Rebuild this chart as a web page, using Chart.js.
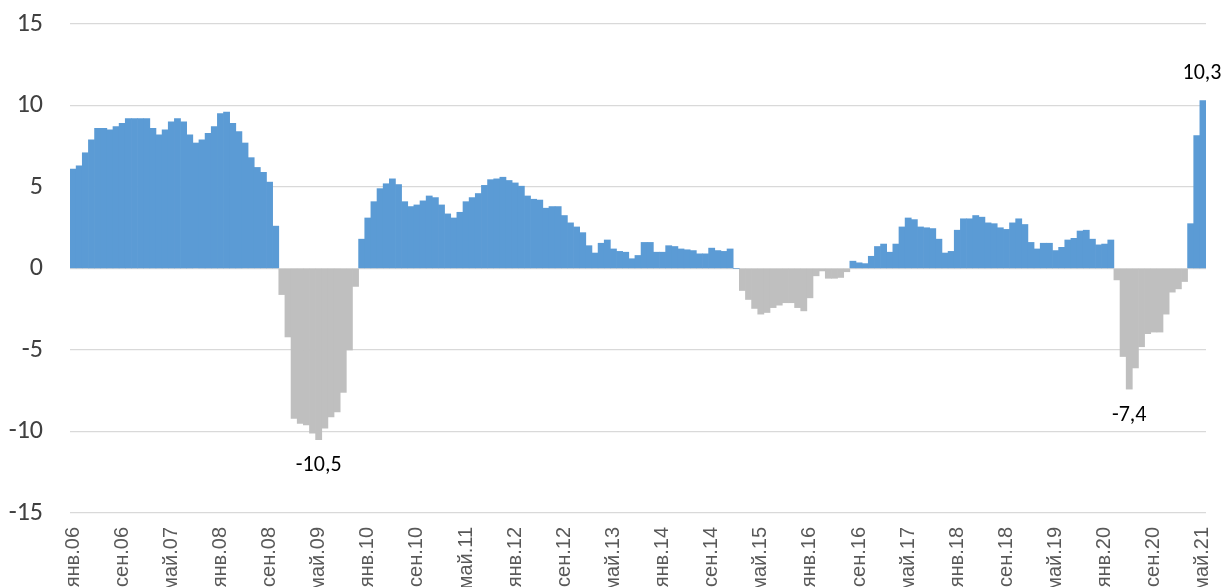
<!DOCTYPE html>
<html lang="ru">
<head>
<meta charset="utf-8">
<title>Динамика</title>
<script src="https://cdn.jsdelivr.net/npm/chart.js@4.4.1/dist/chart.umd.min.js"></script>
<style>
    html, body { margin: 0; padding: 0; background: #fff; overflow: hidden; }
    #wrap { position: relative; width: 1227px; height: 587px; }
</style>
</head>
<body>
<div id="wrap"><canvas id="canvasGrafica"></canvas></div>
<script>
// Месячные значения, янв.2006 – май.2021
const valores2006 = [6.1, 6.3, 7.1, 7.9, 8.6, 8.6, 8.5, 8.7, 8.9, 9.2, 9.2, 9.2];
const valores2007 = [9.2, 8.6, 8.2, 8.5, 9.0, 9.2, 9.0, 8.2, 7.7, 7.9, 8.3, 8.7];
const valores2008 = [9.5, 9.6, 8.9, 8.4, 7.7, 6.8, 6.2, 5.9, 5.3, 2.6, -1.6, -4.2];
const valores2009 = [-9.2, -9.5, -9.6, -10.1, -10.5, -9.8, -9.1, -8.8, -7.6, -5.0, -1.1, 1.8];
const valores2010 = [3.1, 4.1, 4.9, 5.2, 5.5, 5.15, 4.1, 3.8, 3.9, 4.15, 4.45, 4.35];
const valores2011 = [3.9, 3.35, 3.1, 3.45, 4.1, 4.35, 4.6, 5.1, 5.45, 5.5, 5.6, 5.4];
const valores2012 = [5.25, 5.05, 4.45, 4.25, 4.2, 3.7, 3.8, 3.8, 3.25, 2.8, 2.55, 2.2];
const valores2013 = [1.4, 0.95, 1.55, 1.75, 1.2, 1.05, 1.0, 0.6, 0.8, 1.6, 1.6, 1.0];
const valores2014 = [1.0, 1.4, 1.35, 1.2, 1.15, 1.1, 0.9, 0.9, 1.25, 1.1, 1.05, 1.2];
const valores2015 = [0, -1.35, -1.9, -2.45, -2.8, -2.7, -2.4, -2.25, -2.1, -2.1, -2.4, -2.6];
const valores2016 = [-1.8, -0.45, -0.15, -0.6, -0.6, -0.55, -0.2, 0.45, 0.35, 0.3, 0.75, 1.35];
const valores2017 = [1.5, 1.0, 1.5, 2.55, 3.1, 3.0, 2.55, 2.5, 2.45, 1.8, 0.95, 1.05];
const valores2018 = [2.35, 3.05, 3.05, 3.25, 3.15, 2.8, 2.75, 2.5, 2.4, 2.8, 3.05, 2.7];
const valores2019 = [1.6, 1.2, 1.55, 1.55, 1.1, 1.3, 1.75, 1.85, 2.3, 2.35, 1.8, 1.45];
const valores2020 = [1.5, 1.75, -0.7, -5.4, -7.4, -6.1, -4.8, -4.0, -3.9, -3.9, -2.8, -1.45];
const valores2021 = [-1.25, -0.8, 2.75, 8.15, 10.3];

const MESES = ['янв', 'фев', 'мар', 'апр', 'май', 'июн', 'июл', 'авг', 'сен', 'окт', 'ноя', 'дек'];
const ANIO_INICIO = 2006;
const PASO_ETIQUETAS = 8;                 // подпись каждые 8 месяцев
const mesesConEtiqueta = ['май.09', 'май.20', 'май.21'];
const ticksY = [-15, -10, -5, 0, 5, 10, 15];

const COLOR_POSITIVO = '#5B9BD5';
const COLOR_NEGATIVO = '#BFBFBF';
const FUENTE = "Carlito, Calibri, 'Liberation Sans', Arial, sans-serif";
const FUENTE_EJE_X = "'Liberation Sans', Arial, sans-serif";

const valores = [].concat(
    valores2006, valores2007, valores2008, valores2009, valores2010, valores2011,
    valores2012, valores2013, valores2014, valores2015, valores2016, valores2017,
    valores2018, valores2019, valores2020, valores2021
);

const etiquetas = valores.map((_, i) => {
    const anio = ANIO_INICIO + Math.floor(i / 12);
    return `${MESES[i % 12]}.${String(anio % 100).padStart(2, '0')}`;
});

// подписи значений у выбранных столбцов
const pluginEtiquetas = {
    id: 'etiquetasValores',
    afterDatasetsDraw(chart) {
        const ctx = chart.ctx;
        const meta = chart.getDatasetMeta(0);
        ctx.save();
        ctx.font = `22px ${FUENTE}`;
        ctx.fillStyle = '#000';
        ctx.textAlign = 'center';
        ctx.textBaseline = 'middle';
        mesesConEtiqueta.forEach(mes => {
            const i = etiquetas.indexOf(mes);
            if (i < 0) return;
            const barra = meta.data[i];
            const v = valores[i];
            const texto = String(v).replace('.', ',');
            const y = v < 0 ? barra.y + 26 : barra.y - 27;
            ctx.fillText(texto, Math.min(barra.x, 1202), y);
        });
        ctx.restore();
    }
};

new Chart(document.getElementById('canvasGrafica'), {
    type: 'bar',
    data: {
        labels: etiquetas,
        datasets: [{
            data: valores,
            backgroundColor: valores.map(v => v < 0 ? COLOR_NEGATIVO : COLOR_POSITIVO),
            borderWidth: 0,
            barPercentage: 1,
            categoryPercentage: 1
        }]
    },
    options: {
        responsive: true,
        maintainAspectRatio: false,
        animation: false,
        layout: { padding: { top: 24, right: 21, left: 0, bottom: 0 } },
        plugins: {
            legend: { display: false },
            tooltip: { enabled: false }
        },
        scales: {
            x: {
                grid: { display: false, drawTicks: false },
                border: { display: false },
                ticks: {
                    autoSkip: false,
                    maxRotation: 90,
                    minRotation: 90,
                    padding: 14,
                    color: '#595959',
                    font: { family: FUENTE_EJE_X, size: 20 },
                    callback: (valor, i) => i % PASO_ETIQUETAS === 0 ? etiquetas[i] : ''
                },
                afterFit: escala => {
                    escala.height = 74;
                    escala.paddingLeft = 0;
                    escala.paddingRight = 0;
                }
            },
            y: {
                min: ticksY[0],
                max: ticksY[ticksY.length - 1],
                afterBuildTicks: escala => { escala.ticks = ticksY.map(v => ({ value: v })); },
                grid: { color: '#D9D9D9', lineWidth: 1.3, drawTicks: false },
                border: { display: false },
                ticks: {
                    padding: 27,
                    color: '#404040',
                    font: { family: FUENTE, size: 26 }
                },
                afterFit: escala => {
                    escala.width = 70;
                    escala.paddingTop = 0;
                    escala.paddingBottom = 0;
                }
            }
        }
    },
    plugins: [pluginEtiquetas]
});
</script>
</body>
</html>
